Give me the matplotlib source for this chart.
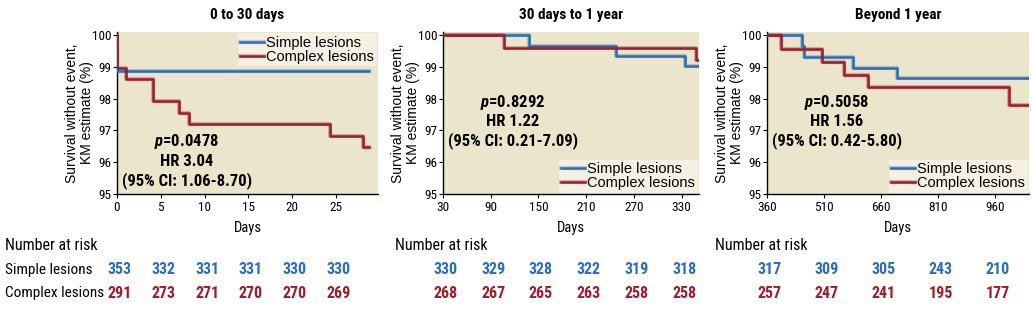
import matplotlib
matplotlib.use('Agg')
import matplotlib.pyplot as plt
import matplotlib.patheffects as pe
from matplotlib import font_manager
from matplotlib.transforms import blended_transform_factory

# ── Data ─────────────────────────────────────────────────────────────────────
titles = ['0 to 30 days', '30 days to 1 year', 'Beyond 1 year']
xlims = [(0, 29.8), (30, 352), (360, 1049)]
xticks = [[0, 5, 10, 15, 20, 25],
          [30, 90, 150, 210, 270, 330],
          [360, 510, 660, 810, 960]]

# Kaplan-Meier step curves (time, survival %)
simple_t = [[0, 0.05, 28.8],
            [30, 137.7, 247.5, 335, 352],
            [360, 451, 456, 586, 702, 1049]]
simple_s = [[100, 98.87, 98.87],
            [100, 99.67, 99.35, 99.02, 99.02],
            [100, 99.65, 99.32, 98.98, 98.65, 98.65]]
complex_t = [[0, 0.05, 1.0, 4.1, 7.1, 8.2, 24.3, 28.1, 28.8],
             [30, 107, 348.8, 352],
             [360, 398, 505.6, 563, 626, 997, 1049]]
complex_s = [[100, 98.97, 98.63, 97.93, 97.56, 97.2, 96.84, 96.48, 96.48],
             [100, 99.6, 99.23, 99.23],
             [100, 99.57, 99.15, 98.75, 98.37, 97.79, 97.79]]

p_values = ['0.0478', '0.8292', '0.5058']
hr_text = ['HR 3.04', 'HR 1.22', 'HR 1.56']
ci_text = ['(95% CI: 1.06-8.70)', '(95% CI: 0.21-7.09)', '(95% CI: 0.42-5.80)']

risk_simple = [[353, 332, 331, 331, 330, 330],
               [330, 329, 328, 322, 319, 318],
               [317, 309, 305, 243, 210]]
risk_complex = [[291, 273, 271, 270, 270, 269],
                [268, 267, 265, 263, 258, 258],
                [257, 247, 241, 195, 177]]

# ── Style ────────────────────────────────────────────────────────────────────
BLUE = '#2c6db8'
RED = '#9c1c30'
BG = '#ebe5cb'
LEG_BG = '#f4f1e4'

installed = {f.name for f in font_manager.fontManager.ttflist}
NARROW = next((n for n in ['Roboto Condensed', 'Archivo Narrow', 'Liberation Sans Narrow',
                           'PT Sans Narrow', 'Barlow Condensed', 'Asap Condensed']
               if n in installed), 'Liberation Sans')
REG = 'Liberation Sans' if 'Liberation Sans' in installed else 'DejaVu Sans'

plt.rcParams.update({
    'font.family': REG,
    'axes.linewidth': 1.0,
    'xtick.major.size': 3,
    'ytick.major.size': 3,
    'xtick.major.pad': 2,
    'ytick.major.pad': 1,
    'mathtext.fontset': 'custom',
    'mathtext.it': f'{NARROW}:italic:bold',
    'mathtext.rm': f'{NARROW}:bold',
})

fig = plt.figure(figsize=(10.33, 3.12), dpi=100)

ax_pos = [(117, 378), (443, 699), (767, 1029)]
W, H = 1033, 312
bottom = 1 - 194 / H
height = (194 - 32) / H

legend_loc = ['upper right', 'lower right', 'lower right']
ann_y = [(142, 162, 181), (103, 122, 141), (103, 122, 141)]
ann_x = [187, 513, 837]
nar_x = [5, 395, 715]

halo = lambda c: [pe.Stroke(linewidth=3.0, foreground=c, alpha=0.3), pe.Normal()]

for i in range(3):
    x0, x1 = ax_pos[i]
    ax = fig.add_axes([x0 / W, bottom, (x1 - x0) / W, height])
    ax.set_facecolor(BG)
    for s in ['top', 'right']:
        ax.spines[s].set_visible(False)

    ax.step(simple_t[i], simple_s[i], where='post', color=BLUE, lw=1.8,
            label='Simple lesions', path_effects=halo(BLUE), zorder=3)
    ax.step(complex_t[i], complex_s[i], where='post', color=RED, lw=1.8,
            label='Complex lesions', path_effects=halo(RED), zorder=3)

    ax.set_xlim(*xlims[i])
    ax.set_ylim(95, 100.1)
    ax.set_yticks([95, 96, 97, 98, 99, 100])
    ax.set_xticks(xticks[i])
    for lab in ax.get_xticklabels() + ax.get_yticklabels():
        lab.set_family(NARROW)
        lab.set_fontsize(9.5)

    ax.set_title(titles[i], fontsize=11, fontweight='bold', family=NARROW, pad=9)
    ax.set_xlabel('Days', fontsize=10.5, family=NARROW, labelpad=5)
    ax.set_ylabel('Survival without event,\nKM estimate (%)', fontsize=10,
                  linespacing=1.05, labelpad=-1.5)

    leg = ax.legend(loc=legend_loc[i], fontsize=10.5, handlelength=1.6,
                    handletextpad=0.2, borderpad=0.15, labelspacing=0.0,
                    borderaxespad=0.1, fancybox=False, framealpha=1)
    leg.get_frame().set_facecolor(LEG_BG)
    leg.get_frame().set_linewidth(0)

    # p-value / HR annotation (pixel positions converted to figure coords)
    ya, yb, yc = ann_y[i]
    xa = ann_x[i] / W
    fig.text(xa, 1 - ya / H, r'$\mathit{p}$=' + p_values[i], ha='center', va='center',
             fontsize=12, fontweight='bold', family=NARROW)
    fig.text(xa, 1 - yb / H, hr_text[i], ha='center', va='center',
             fontsize=12, fontweight='bold', family=NARROW)
    fig.text(xa, 1 - yc / H, ci_text[i], ha='center', va='center',
             fontsize=12, fontweight='bold', family=NARROW)

    # numbers at risk
    tr = blended_transform_factory(ax.transData, fig.transFigure)
    fig.text(nar_x[i] / W, 1 - 246 / H, 'Number at risk', ha='left', va='center',
             fontsize=11.5, family=NARROW)
    for xv, n_s, n_c in zip(xticks[i], risk_simple[i], risk_complex[i]):
        ax.text(xv + (xlims[i][1] - xlims[i][0]) * 0.01, 1 - 270 / H, str(n_s),
                transform=tr, ha='center', va='center', fontsize=11.5,
                fontweight='bold', color=BLUE, family=NARROW)
        ax.text(xv + (xlims[i][1] - xlims[i][0]) * 0.01, 1 - 293 / H, str(n_c),
                transform=tr, ha='center', va='center', fontsize=11.5,
                fontweight='bold', color=RED, family=NARROW)

fig.text(5 / W, 1 - 270 / H, 'Simple lesions', ha='left', va='center',
         fontsize=11, family=NARROW)
fig.text(5 / W, 1 - 293 / H, 'Complex lesions', ha='left', va='center',
         fontsize=11, family=NARROW)

fig.savefig('out.png', dpi=100)
